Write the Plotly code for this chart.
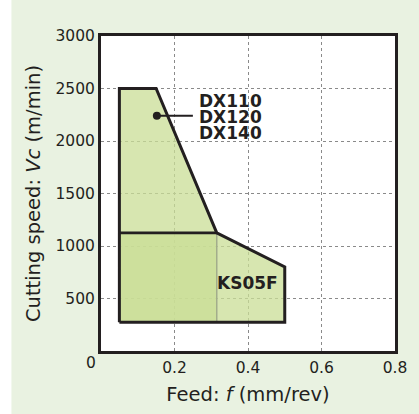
import plotly.graph_objects as go

# ---- data ----
x_ticks = [0.2, 0.4, 0.6, 0.8]
x_tick_labels = ["0.2", "0.4", "0.6", "0.8"]
y_ticks = [500, 1000, 1500, 2000, 2500, 3000]
y_tick_labels = ["500", "1000", "1500", "2000", "2500", "3000"]

# DX110/DX120/DX140 region (feed f, cutting speed Vc)
dx_f = [0.05, 0.05, 0.15, 0.315, 0.315]
dx_vc = [275, 2500, 2500, 1125, 275]
# KS05F region
ks_f = [0.05, 0.05, 0.315, 0.5, 0.5]
ks_vc = [275, 1125, 1125, 800, 275]

dx_label_point = (0.152, 2240)
dx_leader_end = 0.25
dx_labels = ["DX110", "DX120", "DX140"]
dx_label_vc = [2383, 2231, 2079]
ks_label = "KS05F"
ks_label_pos = (0.399, 645)

FONT = "DejaVu Sans"
DARK = "#231f20"
FILL = "rgba(202,222,150,0.75)"
BG = "#e9f2e1"

fig = go.Figure()

fig.add_trace(go.Scatter(x=dx_f + [dx_f[0]], y=dx_vc + [dx_vc[0]], fill="toself",
                         fillcolor=FILL, mode="lines", line=dict(width=0),
                         hoverinfo="skip", showlegend=False))
fig.add_trace(go.Scatter(x=ks_f + [ks_f[0]], y=ks_vc + [ks_vc[0]], fill="toself",
                         fillcolor=FILL, mode="lines", line=dict(width=0),
                         hoverinfo="skip", showlegend=False))

# thin grey internal edge
fig.add_trace(go.Scatter(x=dx_f[3:5], y=dx_vc[3:5], mode="lines",
                         line=dict(color="#a3ad8c", width=1.5),
                         hoverinfo="skip", showlegend=False))
# horizontal top of KS05F
fig.add_trace(go.Scatter(x=ks_f[1:3], y=ks_vc[1:3], mode="lines",
                         line=dict(color=DARK, width=2.6),
                         hoverinfo="skip", showlegend=False))
# outer boundary
outer_f = dx_f[0:4] + ks_f[3:5] + [dx_f[0]]
outer_vc = dx_vc[0:4] + ks_vc[3:5] + [dx_vc[0]]
fig.add_trace(go.Scatter(x=outer_f, y=outer_vc, mode="lines",
                         line=dict(color=DARK, width=3),
                         hoverinfo="skip", showlegend=False))

# leader with dot
fig.add_trace(go.Scatter(x=[dx_label_point[0], dx_leader_end],
                         y=[dx_label_point[1], dx_label_point[1]],
                         mode="lines", line=dict(color=DARK, width=2),
                         hoverinfo="skip", showlegend=False))
fig.add_trace(go.Scatter(x=[dx_label_point[0]], y=[dx_label_point[1]],
                         mode="markers", marker=dict(color=DARK, size=8),
                         hoverinfo="skip", showlegend=False))

annotations = []
for t, v in zip(dx_labels, dx_label_vc):
    annotations.append(dict(x=0.262, y=v, xref="x", yref="y", text=f"<b>{t}</b>",
                            showarrow=False, xanchor="left", yanchor="middle",
                            font=dict(family=FONT, size=17, color=DARK)))
annotations.append(dict(x=ks_label_pos[0], y=ks_label_pos[1], xref="x", yref="y",
                        text=f"<b>{ks_label}</b>", showarrow=False,
                        xanchor="center", yanchor="middle",
                        font=dict(family=FONT, size=17, color=DARK)))
# corner "0"
annotations.append(dict(x=0, y=0, xref="x", yref="paper", text="0", showarrow=False,
                        xanchor="center", yanchor="top", xshift=-10, yshift=-1,
                        font=dict(family=FONT, size=15.5, color=DARK)))

W, H = 419, 414
ml, mr, mt, mb = 101, 16, 36, 63
pw, ph = W - ml - mr, H - mt - mb

shapes = [dict(type="rect", xref="paper", yref="paper",
               x0=-ml / pw - 0.01, x1=(9 - ml) / pw,
               y0=-mb / ph - 0.02, y1=1 + mt / ph + 0.02,
               fillcolor="white", line=dict(width=0), layer="below")]

fig.update_layout(
    width=W, height=H,
    margin=dict(l=ml, r=mr, t=mt, b=mb),
    paper_bgcolor=BG, plot_bgcolor="white",
    font=dict(family=FONT, color=DARK),
    showlegend=False,
    annotations=annotations,
    shapes=shapes,
)
fig.update_xaxes(range=[0, 0.8], tickvals=x_ticks, ticktext=x_tick_labels,
                 showline=True, linecolor=DARK, linewidth=3, mirror=True,
                 showgrid=True, gridcolor="#8a8a8a", gridwidth=1, griddash="dot",
                 zeroline=False, ticks="", tickfont=dict(family=FONT, size=15.5, color=DARK),
                 title=dict(text="Feed: <i>f</i> (mm/rev)",
                            font=dict(family=FONT, size=19.5, color=DARK), standoff=12))
fig.update_yaxes(range=[0, 3000], tickvals=y_ticks, ticktext=y_tick_labels,
                 showline=True, linecolor=DARK, linewidth=3, mirror=True,
                 showgrid=True, gridcolor="#8a8a8a", gridwidth=1, griddash="dot",
                 zeroline=False, ticks="", tickfont=dict(family=FONT, size=15.5, color=DARK),
                 title=dict(text="Cutting speed: <i>Vc</i> (m/min)",
                            font=dict(family=FONT, size=19.5, color=DARK), standoff=10))

fig.write_html("out.html",
               config={"displayModeBar": False, "responsive": False},
               post_script="document.body.style.margin='0';document.body.style.padding='0';"
                           "document.body.style.overflow='hidden';"
                           "document.documentElement.style.overflow='hidden';")
